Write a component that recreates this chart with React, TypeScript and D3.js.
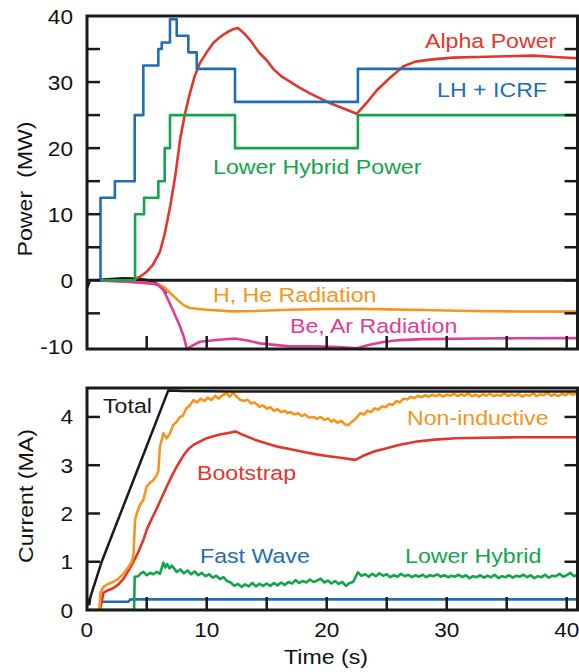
import React from "react";
import * as d3 from "d3";

type Pt = [number, number];

// ---------- Top panel (Power, MW) ----------
const powerTicks = [-10, 0, 10, 20, 30, 40];
const powerMinorTicks = [-5, 5, 15, 25, 35];
const timeTicks = [0, 10, 20, 30, 40];
const timeMinorTicks = [5, 15, 25, 35];
const currentTicks = [0, 1, 2, 3, 4];

const lhIcrfTimes = [0, 1.15, 2.35, 4.0, 4.72, 5.97, 6.25, 6.94, 7.5, 8.47, 9.17, 12.36, 22.6, 40.9];
const lhIcrfValues = [0, 12.5, 15, 25, 32.5, 35, 36, 39.5, 37, 34.5, 32, 27, 32, 32];

const lhPowerTimes = [0, 4.03, 4.78, 5.97, 6.5, 6.94, 12.36, 22.6, 40.9];
const lhPowerValues = [0, 10, 12.5, 15, 20, 25, 20, 25, 25];

const alphaPower: Pt[] = [
  [4.0, 0.2], [4.5, 0.6], [5.0, 1.3], [5.5, 2.3], [6.1, 4.3], [6.5, 7], [6.94, 11], [7.4, 16],
  [7.78, 21.3], [8.2, 25.3], [8.6, 28.3], [9.0, 30.9], [9.44, 32.9], [10, 34.5], [10.55, 35.9],
  [11.1, 36.8], [11.67, 37.5], [12.2, 38.0], [12.6, 38.2], [13.1, 37.4], [13.6, 36.4], [14.0, 35.4],
  [14.4, 34.4], [15.0, 33.3], [15.55, 32.0], [16.2, 30.9], [16.9, 30.1], [17.7, 29.2], [18.6, 28.3],
  [19.5, 27.5], [20.3, 26.8], [21.4, 26.0], [22.5, 25.2], [23.3, 26.8], [24.2, 28.8], [25.3, 30.7],
  [26.4, 32.4], [27.4, 33.1], [28.6, 33.4], [30.5, 33.7], [32.5, 33.8], [35, 33.9], [37.2, 34.0],
  [39, 33.8], [40.9, 33.6],
];

const hHeRadiation: Pt[] = [
  [0, 0], [2, -0.1], [4, -0.3], [5.5, -0.5], [6.1, -0.7], [6.5, -1.1], [7.0, -2.0], [7.6, -3.0],
  [8.1, -3.8], [8.6, -4.2], [10, -4.45], [12.2, -4.7], [14, -4.65], [16.9, -4.45], [20, -4.35],
  [22.5, -4.3], [25, -4.4], [28, -4.5], [32, -4.65], [36, -4.72], [40.9, -4.75],
];

const beArRadiation: Pt[] = [
  [0, 0], [2, -0.1], [4, -0.3], [5.5, -0.5], [6.0, -0.8], [6.4, -1.5], [6.8, -3.0], [7.3, -5.0],
  [7.78, -7.0], [8.1, -8.6], [8.35, -10.4], [8.8, -9.9], [9.44, -9.3], [10.8, -9.05], [12.36, -8.8],
  [13.4, -9.1], [14.4, -9.55], [16.9, -10.0], [19, -10.0], [21, -10.1], [22.5, -10.3], [23.5, -9.8],
  [24.8, -9.3], [26.1, -9.05], [28, -8.9], [32.5, -8.8], [36, -8.78], [40.9, -8.75],
];

const netPower: Pt[] = [
  [0, 0.9], [0.1, -1.0], [0.3, 0], [1, 0.1], [2, 0.25], [3, 0.35], [4, 0.3], [5, 0.1],
  [5.5, -0.2], [6.1, -0.7], [6.67, -2.0],
];

// ---------- Bottom panel (Current, MA) ----------
const totalCurrent: Pt[] = [
  [0, 0.05], [0.1, 0.22], [0.22, 0.12], [0.3, 0.26], [1.25, 1.0], [4.38, 3.0], [6.8, 4.55],
  [8, 4.54], [12, 4.53], [20, 4.53], [30, 4.53], [40.9, 4.53],
];

const nonInductive: Pt[] = [
  [0, 0], [1.05, 0], [1.15, 0.36], [1.4, 0.48], [1.8, 0.54], [2.2, 0.58], [2.6, 0.64], [3.05, 0.75],
  [3.4, 0.86], [3.75, 1.0], [3.9, 1.15], [4.03, 1.87], [4.2, 2.02], [4.44, 2.18], [4.72, 2.28],
  [5.0, 2.56], [5.3, 2.64], [5.55, 2.69], [5.8, 2.78], [5.97, 2.87], [6.1, 3.38], [6.25, 3.52],
  [6.39, 3.66], [6.55, 3.6], [6.67, 3.56], [6.94, 3.66], [7.2, 3.83], [7.5, 3.9], [7.78, 4.0],
  [8.0, 4.02], [8.3, 4.18], [8.6, 4.24], [8.9, 4.35], [9.2, 4.3], [9.5, 4.38], [9.8, 4.33],
  [10.1, 4.4], [10.4, 4.35], [10.7, 4.44], [11.0, 4.38], [11.3, 4.45], [11.67, 4.49], [11.9, 4.42],
  [12.2, 4.5], [12.5, 4.42], [12.8, 4.35], [13.1, 4.33], [13.4, 4.36], [13.7, 4.28], [14.0, 4.3],
  [14.4, 4.21], [14.7, 4.24], [15.0, 4.17], [15.3, 4.2], [15.6, 4.13], [15.9, 4.16], [16.2, 4.1],
  [16.5, 4.13], [16.7, 4.08], [17.0, 4.1], [17.3, 4.05], [17.6, 4.08], [17.9, 4.02], [18.2, 4.05],
  [18.5, 3.99], [18.9, 4.0], [19.2, 3.96], [19.5, 4.0], [19.8, 3.94], [20.1, 3.97], [20.4, 3.9],
  [20.6, 3.94], [20.9, 3.88], [21.2, 3.92], [21.5, 3.85], [21.8, 3.83], [22.1, 3.9], [22.4, 3.96],
  [22.8, 4.08], [23.1, 4.05], [23.4, 4.13], [23.7, 4.1], [24.0, 4.18], [24.3, 4.15], [24.6, 4.22],
  [24.9, 4.2], [25.2, 4.27], [25.5, 4.25], [25.8, 4.33], [26.1, 4.3], [26.4, 4.38], [26.7, 4.36],
  [27.0, 4.42], [27.3, 4.39], [27.6, 4.44], [27.9, 4.41], [28.2, 4.45], [28.5, 4.42], [28.8, 4.46],
  [29.1, 4.43], [29.4, 4.47], [29.7, 4.42], [30.0, 4.46], [30.3, 4.44], [30.6, 4.48], [30.9, 4.43],
  [31.2, 4.47], [31.5, 4.44], [31.8, 4.49], [32.1, 4.43], [32.4, 4.46], [32.7, 4.42], [33.0, 4.47],
  [33.3, 4.44], [33.6, 4.48], [33.9, 4.43], [34.2, 4.46], [34.5, 4.44], [34.8, 4.49], [35.1, 4.43],
  [35.4, 4.47], [35.7, 4.44], [36.0, 4.48], [36.3, 4.42], [36.6, 4.46], [36.9, 4.44], [37.2, 4.49],
  [37.5, 4.43], [37.8, 4.47], [38.1, 4.45], [38.4, 4.5], [38.7, 4.44], [39.0, 4.47], [39.3, 4.43],
  [39.6, 4.48], [39.9, 4.45], [40.2, 4.5], [40.5, 4.46], [40.9, 4.49],
];

const bootstrap: Pt[] = [
  [1.1, 0], [1.4, 0.36], [1.8, 0.41], [2.2, 0.45], [2.6, 0.52], [3.05, 0.64], [3.5, 0.82],
  [3.9, 1.0], [4.3, 1.2], [4.72, 1.45], [5.0, 1.66], [5.4, 1.88], [5.83, 2.1], [6.2, 2.3],
  [6.67, 2.56], [7.1, 2.78], [7.5, 2.97], [8.05, 3.2], [8.5, 3.34], [8.9, 3.42], [9.5, 3.5],
  [10, 3.56], [11, 3.63], [12, 3.68], [12.4, 3.7], [13, 3.63], [14, 3.53], [15, 3.45], [16, 3.38],
  [17, 3.33], [18, 3.28], [19, 3.23], [20, 3.19], [21, 3.16], [22.4, 3.11], [23, 3.19], [24, 3.29],
  [25, 3.35], [26, 3.42], [27.5, 3.49], [29, 3.53], [30.8, 3.56], [33, 3.57], [36, 3.58], [40.9, 3.58],
];

const fastWave: Pt[] = [
  [1.1, 0.17], [3.45, 0.17], [3.65, 0.22], [40.9, 0.22],
];

const lowerHybridCurrent: Pt[] = [
  [0, 0], [3.95, 0], [4.0, 0.69], [4.3, 0.7], [4.5, 0.76], [4.72, 0.79], [5.0, 0.72], [5.3, 0.77],
  [5.55, 0.74], [5.83, 0.79], [6.1, 0.75], [6.39, 0.98], [6.55, 0.88], [6.7, 0.95], [6.9, 0.86],
  [7.1, 0.92], [7.5, 0.79], [7.8, 0.84], [8.1, 0.76], [8.4, 0.82], [8.7, 0.74], [9.0, 0.8],
  [9.3, 0.72], [9.6, 0.77], [9.9, 0.7], [10.2, 0.74], [10.5, 0.67], [10.8, 0.71], [11.1, 0.64],
  [11.4, 0.68], [11.7, 0.6], [12.0, 0.57], [12.3, 0.5], [12.6, 0.54], [12.9, 0.48], [13.2, 0.53],
  [13.5, 0.49], [13.8, 0.56], [14.1, 0.49], [14.4, 0.54], [14.7, 0.5], [15.0, 0.55], [15.3, 0.5],
  [15.6, 0.56], [15.9, 0.51], [16.2, 0.57], [16.5, 0.52], [16.8, 0.58], [17.1, 0.55], [17.4, 0.62],
  [17.7, 0.56], [18.0, 0.6], [18.3, 0.57], [18.6, 0.63], [18.9, 0.58], [19.2, 0.61], [19.5, 0.65],
  [19.8, 0.57], [20.1, 0.61], [20.4, 0.55], [20.7, 0.6], [21.0, 0.54], [21.3, 0.58], [21.6, 0.5],
  [21.9, 0.56], [22.2, 0.58], [22.6, 0.78], [22.9, 0.71], [23.2, 0.74], [23.5, 0.69], [23.8, 0.75],
  [24.1, 0.7], [24.4, 0.76], [24.7, 0.71], [25.0, 0.74], [25.3, 0.68], [25.6, 0.72], [25.9, 0.69],
  [26.2, 0.75], [26.5, 0.7], [26.8, 0.73], [27.1, 0.68], [27.4, 0.72], [27.7, 0.69], [28.0, 0.73],
  [28.3, 0.68], [28.6, 0.72], [28.9, 0.7], [29.2, 0.74], [29.5, 0.69], [29.8, 0.72], [30.1, 0.68],
  [30.4, 0.71], [30.7, 0.69], [31.0, 0.73], [31.3, 0.68], [31.6, 0.72], [31.9, 0.66], [32.2, 0.7],
  [32.5, 0.68], [32.8, 0.72], [33.1, 0.67], [33.4, 0.71], [33.7, 0.68], [34.0, 0.73], [34.3, 0.66],
  [34.6, 0.7], [34.9, 0.68], [35.2, 0.72], [35.5, 0.67], [35.8, 0.71], [36.1, 0.69], [36.4, 0.73],
  [36.7, 0.68], [37.0, 0.72], [37.3, 0.66], [37.6, 0.7], [37.9, 0.68], [38.2, 0.73], [38.5, 0.67],
  [38.8, 0.71], [39.1, 0.7], [39.4, 0.75], [39.7, 0.69], [40.0, 0.72], [40.3, 0.77], [40.6, 0.7],
  [40.9, 0.73],
];

// ---------- styling ----------
const FONT = "'Liberation Sans', Arial, Helvetica, sans-serif";
const STRETCH = 1.13;
const C = {
  red: "#e2362c",
  blue: "#1f6db5",
  green: "#12a54a",
  orange: "#f7941d",
  magenta: "#e03c98",
  black: "#1a1a1a",
};

function Txt(props: {
  x: number; y: number; text: string; fill?: string; size?: number;
  anchor?: "start" | "middle" | "end"; rotate?: number;
}) {
  const { x, y, text, fill = "#111", size = 20.5, anchor = "start", rotate = 0 } = props;
  return (
    <text
      transform={`translate(${x},${y}) rotate(${rotate}) scale(${STRETCH},1)`}
      fontFamily={FONT}
      fontSize={size}
      fill={fill}
      textAnchor={anchor}
      style={{ whiteSpace: "pre" }}
    >
      {text}
    </text>
  );
}

export default function App() {
  const W = 579, H = 672;
  const xL = 87, xR = 577.5;
  const x = d3.scaleLinear().domain([0, 40]).range([86.7, 566.7]);

  const topY0 = 16, topY1 = 349;
  const yP = d3.scaleLinear().domain([-10.4, 40]).range([topY1, topY0]);
  const botY0 = 388, botY1 = 610;
  const yI = d3.scaleLinear().domain([0, 4.6]).range([botY1, botY0]);

  const lineP = d3.line<Pt>().x((d) => x(d[0])).y((d) => yP(d[1]));
  const lineI = d3.line<Pt>().x((d) => x(d[0])).y((d) => yI(d[1]));
  const stepP = d3.line<Pt>().x((d) => x(d[0])).y((d) => yP(d[1])).curve(d3.curveStepAfter);

  const lhIcrf: Pt[] = lhIcrfTimes.map((t, i) => [t, lhIcrfValues[i]]);
  const lhPower: Pt[] = lhPowerTimes.map((t, i) => [t, lhPowerValues[i]]);

  const lw = 2.6;
  const axisW = 3;
  const tickLen = 13;

  const frame = (y0: number, y1: number) => (
    <rect x={xL} y={y0} width={xR - xL} height={y1 - y0} fill="none" stroke={C.black} strokeWidth={axisW} />
  );

  return (
    <svg width={W} height={H} style={{ position: "absolute", left: 0, top: 0, background: "#fff" }}>
      <defs>
        <clipPath id="clipTop">
          <rect x={xL} y={topY0} width={xR - xL} height={topY1 - topY0} />
        </clipPath>
        <clipPath id="clipBot">
          <rect x={xL} y={botY0} width={xR - xL} height={botY1 - botY0} />
        </clipPath>
      </defs>
      <rect x={0} y={0} width={W} height={H} fill="#fff" />

      {/* ---------------- TOP PANEL ---------------- */}
      <g clipPath="url(#clipTop)" fill="none" strokeLinejoin="round">
        <line x1={xL} x2={xR} y1={yP(0)} y2={yP(0)} stroke={C.black} strokeWidth={3} />
        <path d={lineP(netPower) || ""} stroke={C.black} strokeWidth={2} />
        <path d={lineP(hHeRadiation) || ""} stroke={C.orange} strokeWidth={lw} />
        <path d={lineP(beArRadiation) || ""} stroke={C.magenta} strokeWidth={lw} />
        <path d={lineP(alphaPower) || ""} stroke={C.red} strokeWidth={lw} />
        <path d={stepP(lhPower) || ""} stroke={C.green} strokeWidth={lw} />
        <path d={stepP(lhIcrf) || ""} stroke={C.blue} strokeWidth={lw} />
      </g>
      {frame(topY0, topY1)}
      {[...powerTicks, ...powerMinorTicks].filter((v) => v > -10 && v < 40).map((v) => (
        <g key={"pt" + v} stroke={C.black} strokeWidth={2.5}>
          <line x1={xL} x2={xL + tickLen} y1={yP(v)} y2={yP(v)} />
          <line x1={xR - tickLen} x2={xR} y1={yP(v)} y2={yP(v)} />
        </g>
      ))}
      {[...timeTicks, ...timeMinorTicks].filter((v) => v > 0).map((v) => (
        <line key={"tx" + v} x1={x(v)} x2={x(v)} y1={topY1} y2={topY1 - tickLen} stroke={C.black} strokeWidth={2.5} />
      ))}
      {powerTicks.map((v) => (
        <Txt key={"pl" + v} x={73} y={Math.min(yP(v), 349) + 7.5} text={String(v)} anchor="end" size={20} />
      ))}
      <Txt x={32} y={189} text="Power  (MW)" anchor="middle" rotate={-90} size={20.5} />

      <Txt x={425} y={48} text="Alpha Power" fill={C.red} />
      <Txt x={437} y={97} text="LH + ICRF" fill={C.blue} />
      <Txt x={213} y={174} text="Lower Hybrid Power" fill={C.green} />
      <Txt x={213} y={302} text="H, He Radiation" fill={C.orange} />
      <Txt x={290} y={333} text="Be, Ar Radiation" fill={C.magenta} />

      {/* ---------------- BOTTOM PANEL ---------------- */}
      <g clipPath="url(#clipBot)" fill="none" strokeLinejoin="round">
        <path d={lineI(fastWave) || ""} stroke={C.blue} strokeWidth={lw} />
        <path d={lineI(lowerHybridCurrent) || ""} stroke={C.green} strokeWidth={lw} />
        <path d={lineI(bootstrap) || ""} stroke={C.red} strokeWidth={lw} />
        <path d={lineI(nonInductive) || ""} stroke={C.orange} strokeWidth={lw} />
        <path d={lineI(totalCurrent) || ""} stroke={C.black} strokeWidth={2.5} />
      </g>
      {frame(botY0, botY1)}
      {currentTicks.filter((v) => v > 0).map((v) => (
        <g key={"ct" + v} stroke={C.black} strokeWidth={2.5}>
          <line x1={xL} x2={xL + tickLen} y1={yI(v)} y2={yI(v)} />
          <line x1={xR - tickLen} x2={xR} y1={yI(v)} y2={yI(v)} />
        </g>
      ))}
      {[...timeTicks, ...timeMinorTicks].filter((v) => v > 0).map((v) => (
        <line key={"bx" + v} x1={x(v)} x2={x(v)} y1={botY1} y2={botY1 - tickLen} stroke={C.black} strokeWidth={2.5} />
      ))}
      {currentTicks.map((v) => (
        <Txt key={"cl" + v} x={73} y={yI(v) + 7.5} text={String(v)} anchor="end" size={20} />
      ))}
      {timeTicks.map((v) => (
        <Txt key={"tl" + v} x={x(v)} y={637} text={String(v)} anchor="middle" size={20} />
      ))}
      <Txt x={326} y={664} text="Time (s)" anchor="middle" size={20.5} />
      <Txt x={33} y={496} text="Current (MA)" anchor="middle" rotate={-90} size={20.5} />

      <Txt x={103} y={413} text="Total" fill={C.black} />
      <Txt x={407} y={425} text="Non-inductive" fill={C.orange} />
      <Txt x={197} y={480} text="Bootstrap" fill={C.red} />
      <Txt x={200} y={563} text="Fast Wave" fill={C.blue} />
      <Txt x={405} y={563} text="Lower Hybrid" fill={C.green} />
    </svg>
  );
}
